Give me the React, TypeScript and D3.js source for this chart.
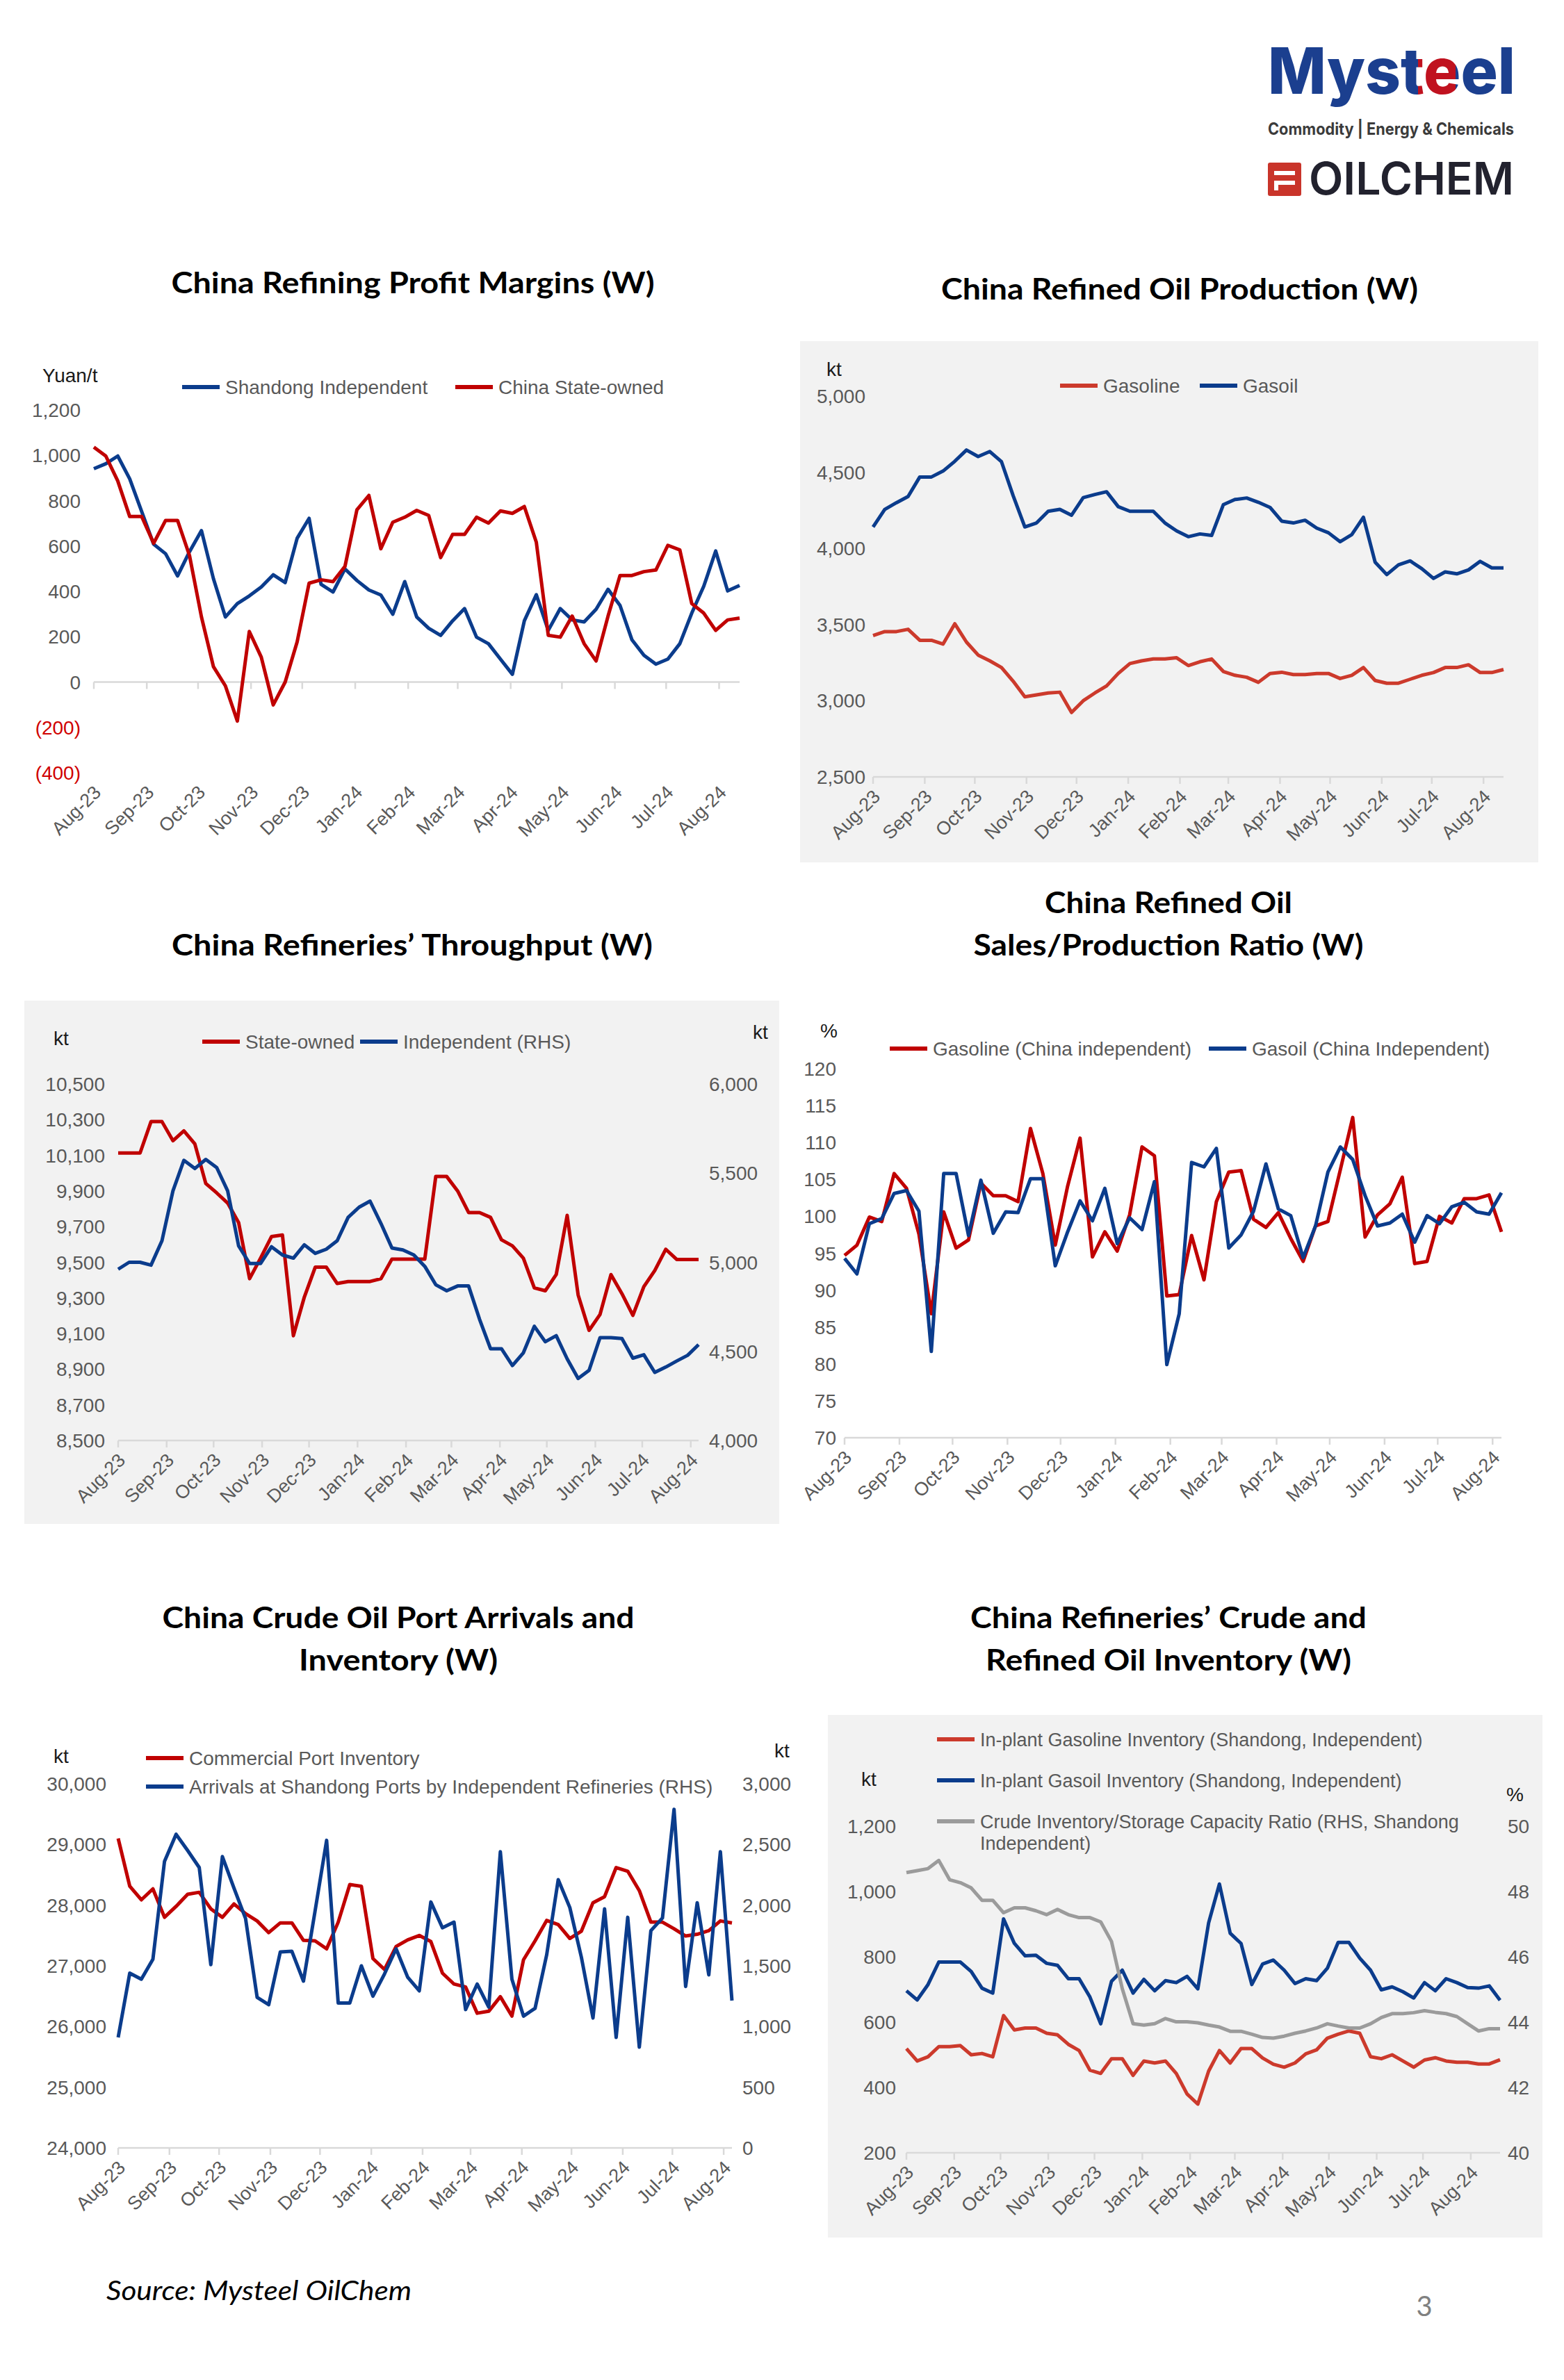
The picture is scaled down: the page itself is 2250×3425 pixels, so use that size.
import * as d3 from 'd3';
import React from 'react';

const W = 2250;
const H = 3425;
const START = new Date(2023, 7, 1);

const monthLabels = ['Aug-23', 'Sep-23', 'Oct-23', 'Nov-23', 'Dec-23', 'Jan-24', 'Feb-24', 'Mar-24', 'Apr-24', 'May-24', 'Jun-24', 'Jul-24', 'Aug-24'];

// China Refining Profit Margins (Yuan/t)
const profitShandong = [941, 963, 997, 896, 752, 608, 566, 468, 575, 668, 456, 287, 346, 380, 419, 473, 439, 634, 722, 431, 397, 499, 448, 406, 384, 299, 443, 287, 237, 206, 270, 324, 198, 169, 101, 34, 270, 385, 228, 324, 274, 265, 321, 409, 338, 186, 118, 79, 101, 169, 304, 422, 578, 402, 426];
const profitState = [1036, 997, 887, 730, 730, 612, 713, 713, 558, 287, 68, -17, -172, 223, 110, -101, 0, 177, 436, 451, 443, 510, 760, 823, 588, 705, 727, 757, 735, 549, 651, 651, 727, 701, 755, 744, 774, 617, 206, 198, 291, 169, 93, 291, 470, 470, 487, 494, 603, 583, 346, 304, 228, 274, 282];
const profitTicks = [-400, -200, 0, 200, 400, 600, 800, 1000, 1200];

// China Refined Oil Production (kt)
const prodGasoline = [3428, 3454, 3454, 3469, 3397, 3397, 3372, 3505, 3385, 3300, 3262, 3218, 3128, 3026, 3038, 3051, 3056, 2923, 3000, 3051, 3097, 3179, 3244, 3262, 3274, 3274, 3282, 3231, 3256, 3274, 3192, 3167, 3154, 3121, 3179, 3187, 3172, 3172, 3179, 3179, 3146, 3167, 3218, 3133, 3115, 3115, 3141, 3167, 3185, 3218, 3218, 3236, 3185, 3185, 3205];
const prodGasoil = [4141, 4256, 4300, 4341, 4469, 4469, 4508, 4572, 4646, 4603, 4636, 4569, 4346, 4141, 4167, 4244, 4256, 4218, 4333, 4354, 4372, 4274, 4244, 4244, 4244, 4167, 4115, 4077, 4095, 4085, 4287, 4321, 4331, 4303, 4269, 4179, 4167, 4185, 4133, 4103, 4044, 4090, 4205, 3910, 3828, 3892, 3918, 3867, 3803, 3846, 3833, 3859, 3915, 3872, 3872];
const prodTicks = [2500, 3000, 3500, 4000, 4500, 5000];

// China Refineries' Throughput (kt)
const thruState = [10113, 10113, 10113, 10289, 10289, 10182, 10237, 10164, 9942, 9889, 9832, 9722, 9408, 9523, 9644, 9653, 9088, 9305, 9473, 9473, 9381, 9392, 9392, 9392, 9408, 9518, 9518, 9518, 9518, 9981, 9981, 9900, 9779, 9779, 9752, 9626, 9592, 9523, 9356, 9340, 9431, 9763, 9317, 9118, 9207, 9431, 9324, 9202, 9363, 9454, 9573, 9516, 9516, 9516];
const thruIndep = [4961, 5000, 5000, 4984, 5121, 5400, 5572, 5526, 5577, 5531, 5400, 5092, 4993, 4993, 5087, 5041, 5023, 5098, 5050, 5073, 5121, 5252, 5309, 5343, 5217, 5080, 5069, 5041, 4977, 4874, 4840, 4867, 4867, 4680, 4515, 4515, 4421, 4492, 4641, 4554, 4588, 4458, 4348, 4394, 4577, 4577, 4572, 4462, 4481, 4382, 4412, 4446, 4478, 4538];
const thruLeftTicks = [8500, 8700, 8900, 9100, 9300, 9500, 9700, 9900, 10100, 10300, 10500];
const thruRightTicks = [4000, 4500, 5000, 5500, 6000];

// China Refined Oil Sales/Production Ratio (%)
const salesGasoline = [94.7, 96.1, 99.9, 99.3, 105.8, 103.8, 97.6, 86.8, 100.6, 95.7, 96.8, 104.5, 102.8, 102.8, 102.0, 111.9, 105.8, 96.1, 104.1, 110.6, 94.5, 97.9, 95.3, 100.2, 109.4, 108.2, 89.2, 89.4, 97.4, 91.4, 102.0, 106.0, 106.2, 99.6, 98.5, 100.5, 97.0, 93.9, 98.7, 99.3, 106.3, 113.4, 97.2, 100.2, 101.7, 105.3, 93.6, 93.9, 100.0, 99.1, 102.4, 102.4, 102.9, 97.9];
const salesGasoil = [94.3, 92.2, 99.0, 99.7, 103.1, 103.5, 100.7, 81.7, 105.8, 105.8, 97.4, 104.9, 97.7, 100.6, 100.5, 105.1, 105.1, 93.3, 97.9, 102.1, 99.4, 103.8, 96.3, 99.8, 98.2, 104.7, 79.9, 86.8, 107.3, 106.7, 109.2, 95.7, 97.5, 100.7, 107.1, 101.0, 100.1, 94.4, 98.7, 106.0, 109.4, 107.7, 102.8, 98.7, 99.1, 100.3, 96.5, 100.1, 99.0, 101.3, 101.9, 100.6, 100.3, 103.2];
const salesTicks = [70, 75, 80, 85, 90, 95, 100, 105, 110, 115, 120];

// China Crude Oil Port Arrivals and Inventory (kt)
const portInventory = [29100, 28312, 28088, 28268, 27800, 27980, 28180, 28212, 27940, 27800, 28020, 27860, 27740, 27548, 27708, 27708, 27420, 27412, 27280, 27720, 28340, 28312, 27120, 26940, 27320, 27428, 27500, 27400, 26880, 26700, 26652, 26220, 26252, 26492, 26172, 27100, 27412, 27748, 27680, 27452, 27572, 28040, 28140, 28620, 28560, 28240, 27720, 27720, 27612, 27492, 27520, 27580, 27740, 27708];
const shandongArrivals = [910, 1440, 1390, 1554, 2360, 2584, 2450, 2310, 1510, 2400, 2140, 1890, 1240, 1180, 1614, 1620, 1374, 1950, 2534, 1194, 1194, 1500, 1250, 1434, 1640, 1406, 1294, 2026, 1814, 1860, 1140, 1350, 1160, 2440, 1390, 1086, 1150, 1590, 2210, 1980, 1570, 1070, 1970, 910, 1900, 830, 1790, 1894, 2790, 1330, 2020, 1426, 2440, 1214];
const portLeftTicks = [24000, 25000, 26000, 27000, 28000, 29000, 30000];
const portRightTicks = [0, 500, 1000, 1500, 2000, 2500, 3000];

// China Refineries' Crude and Refined Oil Inventory
const gasolineInventory = [519, 481, 494, 525, 525, 528, 500, 504, 494, 620, 576, 582, 582, 566, 561, 532, 513, 453, 443, 488, 488, 437, 481, 475, 481, 443, 380, 349, 450, 513, 475, 519, 519, 490, 471, 462, 475, 503, 515, 551, 563, 573, 566, 494, 488, 500, 481, 462, 484, 491, 481, 477, 477, 472, 472, 485];
const gasoilInventory = [696, 668, 715, 784, 784, 784, 755, 704, 689, 916, 841, 803, 805, 780, 774, 733, 733, 677, 595, 725, 759, 689, 731, 696, 727, 721, 740, 702, 904, 1023, 872, 841, 715, 778, 790, 759, 718, 733, 727, 765, 844, 844, 796, 759, 699, 708, 693, 674, 721, 696, 733, 721, 706, 704, 711, 667];
const crudeStorageRatio = [48.58, 48.64, 48.7, 48.95, 48.36, 48.27, 48.11, 47.73, 47.73, 47.35, 47.5, 47.5, 47.41, 47.29, 47.45, 47.29, 47.2, 47.2, 47.07, 46.47, 45.02, 43.95, 43.91, 43.95, 44.11, 44.01, 44.01, 43.98, 43.91, 43.85, 43.72, 43.72, 43.63, 43.53, 43.51, 43.57, 43.66, 43.73, 43.82, 43.95, 43.88, 43.82, 43.82, 43.95, 44.14, 44.26, 44.26, 44.29, 44.35, 44.3, 44.26, 44.17, 43.95, 43.73, 43.8, 43.8];
const invLeftTicks = [200, 400, 600, 800, 1000, 1200];
const invRightTicks = [40, 42, 44, 46, 48, 50];

const RED = '#c00000';
const RED2 = '#cc3a2c';
const BLUE = '#0b3c8c';
const GREY = '#9b9b9b';
const AXIS = '#595959';
const FONT = "'Liberation Sans', Arial, sans-serif";
const TITLE_FONT = "Lato, 'Open Sans', sans-serif";

const comma = d3.format(',');
const paren = (v: number) => (v < 0 ? `(${comma(-v)})` : comma(v));

type Series = { values: number[]; color: string; right?: boolean };
type Axis = { domain: [number, number]; range: [number, number]; ticks: number[]; fmt: (v: number) => string; x: number; anchor?: string; color?: (v: number) => string };
type Cfg = {
  panel?: [number, number, number, number];
  titleX: number;
  titles: { text: string; y: number; len: number }[];
  x0: number;
  x1: number;
  yl: Axis;
  yr?: Axis;
  axisAt: number;
  series: Series[];
  legend: { x: number; y: number; color: string; text: string }[];
  legendSize?: number;
  extraText?: { x: number; y: number; text: string }[];
  units: { x: number; y: number; text: string }[];
};

function Chart({ c }: { c: Cfg }) {
  const n = c.series[0].values.length;
  const dates = d3.range(n).map((i) => d3.timeDay.offset(START, 7 * i));
  const x = d3.scaleTime().domain([dates[0], dates[n - 1]]).range([c.x0, c.x1]);
  const yl = d3.scaleLinear().domain(c.yl.domain).range(c.yl.range);
  const yr = c.yr ? d3.scaleLinear().domain(c.yr.domain).range(c.yr.range) : yl;
  const ticks = monthLabels.map((_, k) => d3.timeMonth.offset(START, k));
  const axisY = yl(c.axisAt);
  const bottom = yl(c.yl.domain[0]);
  const ls = c.legendSize || 28;
  const path = (s: Series) =>
    d3
      .line<number>()
      .x((_, i) => x(dates[i]))
      .y((v) => (s.right ? yr(v) : yl(v)))(s.values) || '';

  const axisLabels = (a: Axis, sc: d3.ScaleLinear<number, number>) =>
    a.ticks.map((t) => (
      <text key={t} x={a.x} y={sc(t) + 10} textAnchor={a.anchor || 'end'} fontSize={28} fill={a.color ? a.color(t) : AXIS}>
        {a.fmt(t)}
      </text>
    ));

  return (
    <g fontFamily={FONT}>
      {c.panel && <rect x={c.panel[0]} y={c.panel[1]} width={c.panel[2]} height={c.panel[3]} fill="#f2f2f2" />}
      {c.titles.map((t) => (
        <text key={t.text} x={c.titleX} y={t.y} textAnchor="middle" fontFamily={TITLE_FONT} fontWeight={700} fontSize={42} fill="#000" textLength={t.len} lengthAdjust="spacingAndGlyphs">
          {t.text}
        </text>
      ))}
      {c.units.map((u, i) => (
        <text key={i} x={u.x} y={u.y + 10} fontSize={28} fill="#1a1a1a">
          {u.text}
        </text>
      ))}
      {c.legend.map((l) => (
        <g key={l.text}>
          <line x1={l.x} x2={l.x + 54} y1={l.y} y2={l.y} stroke={l.color} strokeWidth={6} />
          <text x={l.x + 62} y={l.y + 10} fontSize={ls} fill={AXIS}>
            {l.text}
          </text>
        </g>
      ))}
      {(c.extraText || []).map((t) => (
        <text key={t.text} x={t.x} y={t.y + 10} fontSize={ls} fill={AXIS}>
          {t.text}
        </text>
      ))}
      {axisLabels(c.yl, yl)}
      {c.yr && axisLabels(c.yr, yr)}
      <line x1={c.x0} x2={c.x1} y1={axisY} y2={axisY} stroke="#d9d9d9" strokeWidth={2.5} />
      {ticks.map((t, k) => (
        <g key={k}>
          <line x1={x(t)} x2={x(t)} y1={axisY} y2={axisY + 10} stroke="#d9d9d9" strokeWidth={2.5} />
          <text transform={`translate(${x(t) + 12},${bottom + 30}) rotate(-45)`} textAnchor="end" fontSize={27} fill={AXIS}>
            {monthLabels[k]}
          </text>
        </g>
      ))}
      {c.series.map((s, i) => (
        <path key={i} d={path(s)} fill="none" stroke={s.color} strokeWidth={5} strokeLinejoin="round" />
      ))}
    </g>
  );
}

const charts: Cfg[] = [
  {
    titleX: 594,
    titles: [{ text: 'China Refining Profit Margins (W)', y: 422, len: 695 }],
    x0: 135,
    x1: 1064,
    yl: { domain: [-400, 1200], range: [1112, 590], ticks: profitTicks, fmt: paren, x: 116, color: (v) => (v < 0 ? '#d00000' : AXIS) },
    axisAt: 0,
    series: [
      { values: profitShandong, color: BLUE },
      { values: profitState, color: RED },
    ],
    legend: [
      { x: 262, y: 557, color: BLUE, text: 'Shandong Independent' },
      { x: 655, y: 557, color: RED, text: 'China State-owned' },
    ],
    units: [{ x: 61, y: 540, text: 'Yuan/t' }],
  },
  {
    panel: [1151, 491, 1062, 750],
    titleX: 1697,
    titles: [{ text: 'China Refined Oil Production (W)', y: 431, len: 686 }],
    x0: 1256,
    x1: 2163,
    yl: { domain: [2500, 5000], range: [1118, 570], ticks: prodTicks, fmt: comma, x: 1245 },
    axisAt: 2500,
    series: [
      { values: prodGasoline, color: RED2 },
      { values: prodGasoil, color: BLUE },
    ],
    legend: [
      { x: 1525, y: 555, color: RED2, text: 'Gasoline' },
      { x: 1726, y: 555, color: BLUE, text: 'Gasoil' },
    ],
    units: [{ x: 1189, y: 531, text: 'kt' }],
  },
  {
    panel: [35, 1440, 1086, 753],
    titleX: 593,
    titles: [{ text: 'China Refineries\u2019 Throughput (W)', y: 1375, len: 692 }],
    x0: 170,
    x1: 1005,
    yl: { domain: [8500, 10500], range: [2073, 1560], ticks: thruLeftTicks, fmt: comma, x: 151 },
    yr: { domain: [4000, 6000], range: [2073, 1560], ticks: thruRightTicks, fmt: comma, x: 1020, anchor: 'start' },
    axisAt: 8500,
    series: [
      { values: thruState, color: RED },
      { values: thruIndep, color: BLUE, right: true },
    ],
    legend: [
      { x: 291, y: 1499, color: RED, text: 'State-owned' },
      { x: 518, y: 1499, color: BLUE, text: 'Independent (RHS)' },
    ],
    units: [
      { x: 77, y: 1494, text: 'kt' },
      { x: 1083, y: 1485, text: 'kt' },
    ],
  },
  {
    titleX: 1681,
    titles: [
      { text: 'China Refined Oil', y: 1314, len: 356 },
      { text: 'Sales/Production Ratio (W)', y: 1375, len: 561 },
    ],
    x0: 1215,
    x1: 2160,
    yl: { domain: [70, 120], range: [2069, 1538], ticks: salesTicks, fmt: String, x: 1203 },
    axisAt: 70,
    series: [
      { values: salesGasoline, color: RED },
      { values: salesGasoil, color: BLUE },
    ],
    legend: [
      { x: 1280, y: 1509, color: RED, text: 'Gasoline (China independent)' },
      { x: 1739, y: 1509, color: BLUE, text: 'Gasoil (China Independent)' },
    ],
    units: [{ x: 1180, y: 1483, text: '%' }],
  },
  {
    titleX: 573,
    titles: [
      { text: 'China Crude Oil Port Arrivals and', y: 2343, len: 679 },
      { text: 'Inventory (W)', y: 2404, len: 286 },
    ],
    x0: 170,
    x1: 1053,
    yl: { domain: [24000, 30000], range: [3091, 2567], ticks: portLeftTicks, fmt: comma, x: 153 },
    yr: { domain: [0, 3000], range: [3091, 2567], ticks: portRightTicks, fmt: comma, x: 1068, anchor: 'start' },
    axisAt: 24000,
    series: [
      { values: portInventory, color: RED },
      { values: shandongArrivals, color: BLUE, right: true },
    ],
    legend: [
      { x: 210, y: 2530, color: RED, text: 'Commercial Port Inventory' },
      { x: 210, y: 2571, color: BLUE, text: 'Arrivals at Shandong Ports by Independent Refineries (RHS)' },
    ],
    units: [
      { x: 77, y: 2527, text: 'kt' },
      { x: 1114, y: 2519, text: 'kt' },
    ],
  },
  {
    panel: [1191, 2468, 1028, 752],
    titleX: 1681,
    titles: [
      { text: 'China Refineries\u2019 Crude and', y: 2343, len: 570 },
      { text: 'Refined Oil Inventory (W)', y: 2404, len: 526 },
    ],
    x0: 1304,
    x1: 2158,
    yl: { domain: [200, 1200], range: [3098, 2628], ticks: invLeftTicks, fmt: comma, x: 1289 },
    yr: { domain: [40, 50], range: [3098, 2628], ticks: invRightTicks, fmt: String, x: 2169, anchor: 'start' },
    axisAt: 200,
    series: [
      { values: gasolineInventory, color: RED2 },
      { values: gasoilInventory, color: BLUE },
      { values: crudeStorageRatio, color: GREY, right: true },
    ],
    legendSize: 27,
    legend: [
      { x: 1348, y: 2503, color: RED2, text: 'In-plant Gasoline Inventory (Shandong, Independent)' },
      { x: 1348, y: 2562, color: BLUE, text: 'In-plant Gasoil Inventory (Shandong, Independent)' },
      { x: 1348, y: 2621, color: GREY, text: 'Crude Inventory/Storage Capacity Ratio (RHS, Shandong' },
    ],
    extraText: [{ x: 1410, y: 2652, text: 'Independent)' }],
    units: [
      { x: 1239, y: 2560, text: 'kt' },
      { x: 2167, y: 2582, text: '%' },
    ],
  },
];

function Logo() {
  return (
    <g fontFamily="Inter, 'Open Sans', sans-serif">
      <defs>
        <linearGradient id="mysteelFill" gradientUnits="userSpaceOnUse" x1={1824} x2={2180} y1={0} y2={0}>
          <stop offset={0} stopColor="#1b3f8f" />
          <stop offset={0.607} stopColor="#1b3f8f" />
          <stop offset={0.607} stopColor="#c0121f" />
          <stop offset={0.758} stopColor="#c0121f" />
          <stop offset={0.758} stopColor="#1b3f8f" />
          <stop offset={1} stopColor="#1b3f8f" />
        </linearGradient>
      </defs>
      <text x={1824} y={135} fontSize={92} fontWeight={800} fill="url(#mysteelFill)" textLength={356} lengthAdjust="spacingAndGlyphs">
        Mysteel
      </text>
      <text x={1824} y={194} fontSize={24} fontWeight={700} fill="#3b3b3b" textLength={354} lengthAdjust="spacingAndGlyphs">
        Commodity | Energy &amp; Chemicals
      </text>
      <rect x={1824} y={234} width={48} height={48} rx={3} fill="#c9342a" />
      <rect x={1833} y={246} width={30} height={6} fill="#fff" />
      <rect x={1833} y={260} width={30} height={6} fill="#fff" />
      <rect x={1833} y={266} width={6} height={8} fill="#fff" />
      <text x={1883} y={280} fontSize={64} fontWeight={600} fill="#22222e" textLength={295} lengthAdjust="spacingAndGlyphs">
        OILCHEM
      </text>
    </g>
  );
}

export default function App() {
  return (
    <svg width={W} height={H} viewBox={`0 0 ${W} ${H}`} style={{ position: 'absolute', left: 0, top: 0, background: '#fff' }}>
      <rect width={W} height={H} fill="#fff" />
      <Logo />
      {charts.map((c, i) => (
        <Chart key={i} c={c} />
      ))}
      <text x={153} y={3310} fontFamily={TITLE_FONT} fontStyle="italic" fontSize={38} fill="#000" textLength={439} lengthAdjust="spacingAndGlyphs">
        Source: Mysteel OilChem
      </text>
      <text x={2049} y={3333} textAnchor="middle" fontFamily={TITLE_FONT} fontSize={40} fill="#808080">
        3
      </text>
    </svg>
  );
}
